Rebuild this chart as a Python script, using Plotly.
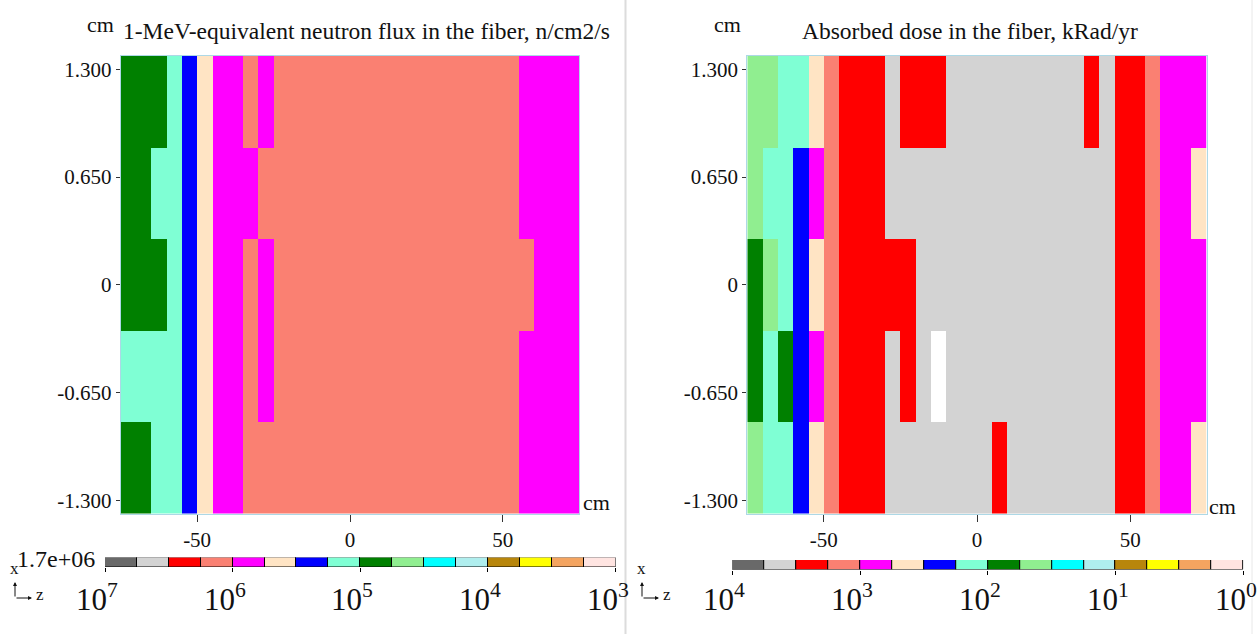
import numpy as np
import plotly.graph_objects as go

W, H = 1259, 634

# ---------------- data ----------------
z_centers = [-72.5 + 5 * i for i in range(30)]           # cm, along fiber
x_centers = [1.104, 0.552, 0.0, -0.552, -1.104]           # cm, transverse (top -> bottom)

# Left: 1-MeV-equivalent neutron flux, n/cm2/s (representative values per cell)
G, A, B, Q, M, S = 7.5e4, 1.33e5, 2.37e5, 4.2e5, 7.5e5, 1.33e6
flux_row0 = [G, G, G, A, B, Q, M, M, S, M] + [S] * 16 + [M] * 4
flux_row1 = [G, G, A, A, B, Q, M, M, M, S] + [S] * 16 + [M] * 4
flux_row2 = [G, G, G, A, B, Q, M, M, S, M] + [S] * 17 + [M] * 3
flux_row3 = [A, A, A, A, B, Q, M, M, S, M] + [S] * 16 + [M] * 4
flux_row4 = [G, G, A, A, B, Q, M, M, S, S] + [S] * 16 + [M] * 4
flux = [flux_row0, flux_row1, flux_row2, flux_row3, flux_row4]

# Right: absorbed dose, kRad/yr
Lg, R, Sd, Md, Qd, Bd, Ad, Gd, Lgr, Wn = 4.2e3, 2.37e3, 1.33e3, 750, 420, 237, 133, 75, 42, None
dose_row0 = [Lgr, Lgr, Ad, Ad, Qd, Sd, R, R, R, Lg, R, R, R] + [Lg] * 9 + [R, Lg, R, R, Sd, Md, Md, Md]
dose_row1 = [Lgr, Ad, Ad, Bd, Md, Sd, R, R, R] + [Lg] * 15 + [R, R, Sd, Md, Md, Qd]
dose_row2 = [Gd, Lgr, Ad, Bd, Qd, Sd, R, R, R, R, R] + [Lg] * 13 + [R, R, Sd, Md, Md, Md]
dose_row3 = [Gd, Ad, Gd, Bd, Md, Sd, R, R, R, Lg, R, Lg, Wn] + [Lg] * 11 + [R, R, Sd, Md, Md, Md]
dose_row4 = [Lgr, Ad, Ad, Bd, Qd, Sd, R, R, R] + [Lg] * 7 + [R] + [Lg] * 7 + [R, R, Sd, Md, Md, Qd]
dose = [dose_row0, dose_row1, dose_row2, dose_row3, dose_row4]

palette = ["#696969", "#d3d3d3", "#ff0000", "#fa8072", "#ff00ff", "#ffe4c4", "#0000ff", "#7fffd4",
           "#008000", "#90ee90", "#00ffff", "#afeeee", "#b8860b", "#ffff00", "#f4a460", "#ffe4e1"]

flux_decades = [7, 6, 5, 4, 3]
dose_decades = [4, 3, 2, 1, 0]
y_tickvals = [1.3, 0.65, 0, -0.65, -1.3]
y_ticktext = ["1.300", "0.650", "0", "-0.650", "-1.300"]
x_tickvals = [-50, 0, 50]
x_ticktext = ["-50", "0", "50"]

title_left = "1-MeV-equivalent neutron flux in the fiber, n/cm2/s"
title_right = "Absorbed dose in the fiber, kRad/yr"

# ---------------- helpers ----------------
n = len(palette)
colorscale = []
for k in range(n - 1, -1, -1):
    colorscale.append([1 - (k + 1) / n, palette[k]])
    colorscale.append([1 - k / n, palette[k]])


def logz(rows):
    return np.log10(np.array(rows, dtype=float))


SERIF = "Liberation Serif"
TIMES = "Liberation Serif"

fig = go.Figure()

fig.add_trace(go.Heatmap(x=z_centers, y=x_centers, z=logz(flux), zmin=min(flux_decades),
                         zmax=max(flux_decades), colorscale=colorscale, showscale=False,
                         xaxis="x", yaxis="y"))
fig.add_trace(go.Heatmap(x=z_centers, y=x_centers, z=logz(dose), zmin=min(dose_decades),
                         zmax=max(dose_decades), colorscale=colorscale, showscale=False,
                         xaxis="x2", yaxis="y2"))

# colour legends as bar strips
centers = [i + 0.5 for i in range(n)]
for xa, ya in (("x3", "y3"), ("x4", "y4")):
    fig.add_trace(go.Bar(x=centers, y=[1] * n, width=1, marker_color=palette,
                         marker_line_color="black", marker_line_width=1,
                         xaxis=xa, yaxis=ya, showlegend=False, hoverinfo="skip"))


def px_x(p):
    return p / W


def px_y(p):
    return 1 - p / H


yd = [px_y(513.5), px_y(56)]
main_x = dict(range=[-75, 75], tickvals=x_tickvals, ticktext=x_ticktext, ticks="outside",
              ticklen=7, tickcolor="#333", showline=True, mirror=True, linecolor="#add8e6",
              linewidth=1, showgrid=False, zeroline=False,
              tickfont=dict(family=SERIF, size=21, color="#111"))
main_y = dict(range=[-1.38, 1.38], tickvals=y_tickvals, ticktext=y_ticktext, ticks="outside",
              ticklen=4, tickcolor="#333", showline=True, mirror=True, linecolor="#add8e6",
              linewidth=1, showgrid=False, zeroline=False,
              tickfont=dict(family=SERIF, size=21, color="#111"))

cb_x = dict(range=[0, 16], tickvals=[0, 4, 8, 12, 16], ticks="outside", ticklen=4,
            tickcolor="black", showticklabels=False, showgrid=False, zeroline=False,
            showline=False)
cb_y = dict(range=[0, 1], visible=False)

fig.update_layout(
    width=W, height=H, margin=dict(l=0, r=0, t=0, b=0),
    paper_bgcolor="white", plot_bgcolor="white", showlegend=False, bargap=0,
    xaxis=dict(main_x, domain=[px_x(120.7), px_x(579.3)], anchor="y"),
    yaxis=dict(main_y, domain=yd, anchor="x"),
    xaxis2=dict(main_x, domain=[px_x(747.3), px_x(1206.7)], anchor="y2"),
    yaxis2=dict(main_y, domain=yd, anchor="x2"),
    xaxis3=dict(cb_x, domain=[px_x(105), px_x(615.5)], anchor="y3"),
    yaxis3=dict(cb_y, domain=[px_y(567), px_y(557.5)], anchor="x3"),
    xaxis4=dict(cb_x, domain=[px_x(732.2), px_x(1243.5)], anchor="y4"),
    yaxis4=dict(cb_y, domain=[px_y(569.5), px_y(560)], anchor="x4"),
)

ann = []


def text(x, y, s, size, family=SERIF, xanchor="center", **kw):
    ann.append(dict(x=x, y=y, xref="paper", yref="paper", text=s, showarrow=False,
                    xanchor=xanchor, yanchor="middle",
                    font=dict(family=family, size=size, color="#111"), **kw))


text(px_x(366.5), px_y(31), title_left, 23.5)
text(px_x(969.5), px_y(31), title_right, 23.5)
text(px_x(100), px_y(25), "cm", 22)
text(px_x(727.5), px_y(25), "cm", 22)
text(px_x(581), px_y(502), "cm", 22, xanchor="left")
text(px_x(1207), px_y(506), "cm", 22, xanchor="left")

# colour legend labels
for xa, decs in (("x3", flux_decades), ("x4", dose_decades)):
    for i, d in enumerate(decs):
        ann.append(dict(x=i * 4, y=px_y(597), xref=xa, yref="paper",
                        text="10<sup>%d</sup>" % d, showarrow=False, xanchor="center",
                        yanchor="middle", xshift=-8,
                        font=dict(family=TIMES, size=31, color="#111")))

text(px_x(97), px_y(559), "1.7e+06", 24, family=TIMES, xanchor="right")

# axis-orientation glyphs
for x0 in (15, 642):
    text(px_x(x0 - 1), px_y(568), "x", 17, family=TIMES)
    ann.append(dict(x=px_x(x0), y=px_y(582), xref="paper", yref="paper", text="",
                    showarrow=True, ax=0, ay=16, arrowhead=2, arrowsize=0.8, arrowwidth=1,
                    arrowcolor="#111"))
    ann.append(dict(x=px_x(x0 + 17), y=px_y(598), xref="paper", yref="paper", text="",
                    showarrow=True, ax=-17, ay=0, arrowhead=2, arrowsize=0.8, arrowwidth=1,
                    arrowcolor="#111"))
    text(px_x(x0 + 25), px_y(594), "z", 17, family=TIMES)

fig.update_layout(annotations=ann)

fig.update_layout(shapes=[
    dict(type="line", xref="paper", yref="paper", x0=px_x(625.5), x1=px_x(625.5), y0=0, y1=1,
         line=dict(color="#dcdcdc", width=2)),
    dict(type="line", xref="paper", yref="paper", x0=px_x(1252), x1=px_x(1252), y0=0, y1=1,
         line=dict(color="#e8e8e8", width=1)),
])

fig.write_html("out.html", config={"displayModeBar": False})
